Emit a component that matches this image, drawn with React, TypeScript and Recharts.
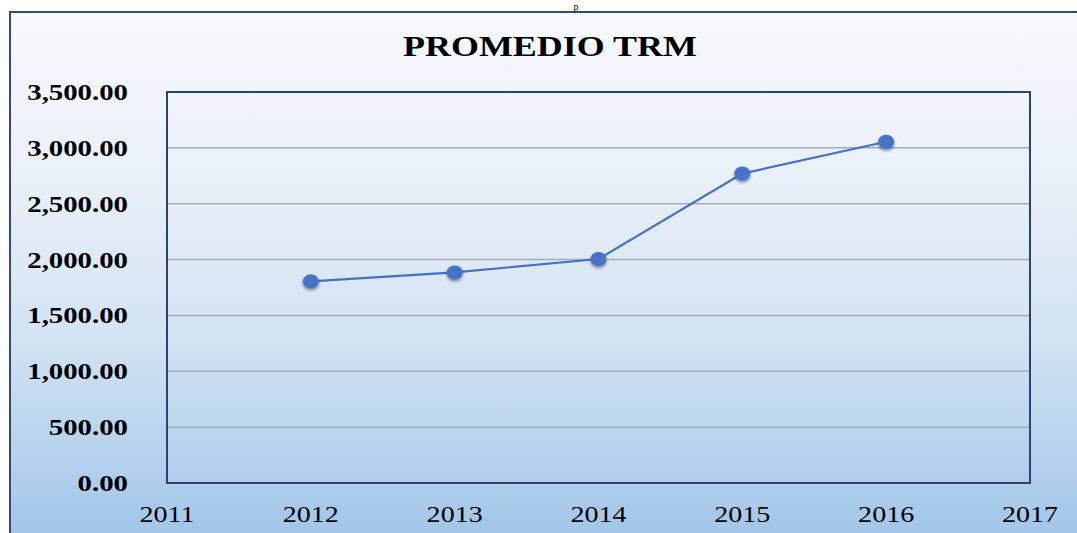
import { LineChart, Line, XAxis, YAxis, CartesianGrid, ReferenceArea } from 'recharts';

const years = [2012, 2013, 2014, 2015, 2016];
const trm = [1805, 1885, 2005, 2770, 3055];
const xTicks = [2011, 2012, 2013, 2014, 2015, 2016, 2017];
const yTicks = [0, 500, 1000, 1500, 2000, 2500, 3000, 3500];

const data = years.map((year, i) => ({ year, trm: trm[i] }));

const SERIF = '"Liberation Serif", "Times New Roman", serif';

const fmt = (v: number) =>
  v.toLocaleString('en-US', { minimumFractionDigits: 2, maximumFractionDigits: 2 });

function YTick({ y, payload }: any) {
  return (
    <text
      transform={`translate(128, ${y + 8}) scale(1.2, 1)`}
      textAnchor="end"
      fontFamily={SERIF}
      fontWeight="bold"
      fontSize={24}
      fill="#000"
    >
      {fmt(payload.value)}
    </text>
  );
}

function XTick({ x, y, payload }: any) {
  return (
    <text
      transform={`translate(${x}, ${y + 39}) scale(1.17, 1)`}
      textAnchor="middle"
      fontFamily={SERIF}
      fontSize={24}
      fill="#000"
    >
      {payload.value}
    </text>
  );
}

function Dot({ cx, cy, index }: any) {
  if (cx == null || cy == null) return null;
  return <ellipse key={index} cx={cx} cy={cy} rx={8} ry={7} fill="#4673c6" filter="url(#dotShadow)" />;
}

export default function App() {
  return (
    <div
      style={{
        position: 'absolute',
        left: 0,
        top: 0,
        width: 1077,
        height: 533,
        overflow: 'hidden',
        background: '#fff',
      }}
    >
      <div
        style={{
          position: 'absolute',
          left: 9,
          top: 11,
          width: 1080,
          height: 540,
          borderLeft: '2px solid #33497a',
          borderTop: '2px solid #33497a',
          background: 'linear-gradient(to bottom, #f7f9fd 0%, #eaf0f8 30%, #d3e3f2 60%, #9dc3e8 100%)',
        }}
      />
      <div style={{ position: 'absolute', left: 0, top: 0 }}>
        <LineChart width={1077} height={533} data={data} margin={{ top: 92, right: 47, bottom: 0, left: 0 }}>
          <CartesianGrid vertical={false} stroke="#a3adbd" strokeWidth={1.5} />
          <XAxis
            dataKey="year"
            type="number"
            domain={[2011, 2017]}
            ticks={xTicks}
            height={50}
            axisLine={false}
            tickLine={false}
            tickSize={0}
            tickMargin={0}
            tick={<XTick />}
          />
          <YAxis
            type="number"
            domain={[0, 3500]}
            ticks={yTicks}
            width={167}
            axisLine={false}
            tickLine={false}
            tickSize={0}
            tickMargin={0}
            tick={<YTick />}
          />
          <ReferenceArea
            x1={2011}
            x2={2017}
            y1={0}
            y2={3500}
            fill="none"
            fillOpacity={0}
            stroke="#2c4370"
            strokeWidth={2}
            ifOverflow="visible"
          />
          <Line
            type="linear"
            dataKey="trm"
            stroke="#4472c4"
            strokeWidth={2.2}
            dot={<Dot />}
            activeDot={false}
            isAnimationActive={false}
          />
        </LineChart>
      </div>
      <svg width={1077} height={533} style={{ position: 'absolute', left: 0, top: 0, pointerEvents: 'none' }}>
        <defs>
          <filter id="dotShadow" x="-50%" y="-50%" width="200%" height="220%">
            <feDropShadow dx="0" dy="2" stdDeviation="1.6" floodColor="#1c2a48" floodOpacity="0.55" />
          </filter>
        </defs>
        <text x={576} y={9.5} textAnchor="middle" fontFamily={SERIF} fontSize={10} fill="#000">
          p
        </text>
        <text
          transform="translate(550, 56) scale(1.24, 1)"
          textAnchor="middle"
          fontFamily={SERIF}
          fontWeight="bold"
          fontSize={29}
          fill="#000"
        >
          PROMEDIO TRM
        </text>
      </svg>
    </div>
  );
}
